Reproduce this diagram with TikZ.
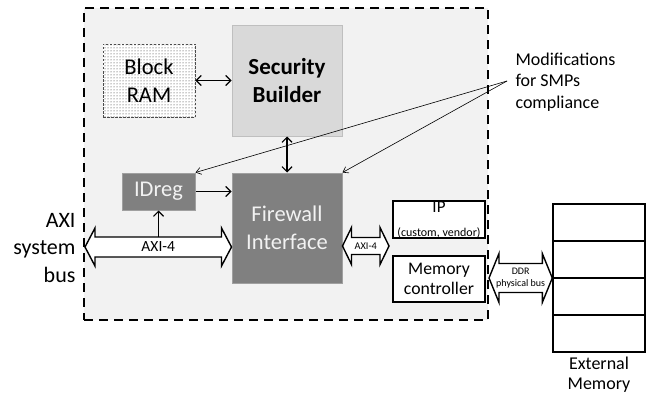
\documentclass[tikz,border=0pt]{standalone}
\usepackage{fontspec}
\setmainfont{Carlito}
\usetikzlibrary{arrows.meta}
\usetikzlibrary{patterns}
\usetikzlibrary{calc}
\usepackage{xcolor}

\definecolor{socgray}{HTML}{F2F2F2}
\definecolor{sbgray}{HTML}{D9D9D9}
\definecolor{sbborder}{HTML}{BFBFBF}
\definecolor{fwgray}{HTML}{808080}
\definecolor{fwborder}{HTML}{A0A0A0}

% horizontal block arrow: left end, right end, shaft half, head half, head length
\newcommand{\busarrow}[5]{%
  \draw[bus] let \p1=(#1), \p2=(#2) in
    (\x1,\y1) -- (\x1+#5,\y1+#4) -- (\x1+#5,\y1+#3) -- (\x2-#5,\y1+#3) -- (\x2-#5,\y1+#4)
    -- (\x2,\y1) -- (\x2-#5,\y1-#4) -- (\x2-#5,\y1-#3) -- (\x1+#5,\y1-#3) -- (\x1+#5,\y1-#4) -- cycle;}

\tikzset{
  soc/.style={draw, dash pattern=on 9pt off 6pt, line width=1.6pt, fill=socgray,
    minimum width=404pt, minimum height=312pt, inner sep=0pt},
  ram/.style={draw=black!70, dash pattern=on 2.5pt off 1.5pt, line width=0.8pt,
    preaction={fill=white}, pattern=dots, pattern color=black!85,
    minimum width=92pt, minimum height=73pt, inner sep=0pt, align=center,
    font=\fontsize{22.5}{27.5}\selectfont},
  builder/.style={draw=sbborder, fill=sbgray, line width=1pt, minimum width=110pt,
    minimum height=110pt, inner sep=0pt, align=center,
    font=\fontsize{23}{28}\selectfont\bfseries},
  darkbox/.style={draw=fwborder, fill=fwgray, line width=1pt, text=socgray,
    inner sep=0pt, align=center, font=\fontsize{22.5}{28}\selectfont},
  plainbox/.style={draw, line width=1.4pt, fill=white, minimum width=92pt,
    inner sep=0pt, align=center},
  cell/.style={draw, line width=1.4pt, fill=white, minimum width=92pt,
    minimum height=37pt, inner sep=0pt},
  link/.style={line width=1.2pt, >={Straight Barb[length=5pt,width=10pt]}},
  thinlink/.style={line width=0.6pt, ->, >={Straight Barb[length=5pt,width=7pt]}},
  bus/.style={draw, line width=1.4pt, fill=white, line join=miter}
}

\begin{document}
\begin{tikzpicture}[x=1pt,y=-1pt]
  \useasboundingbox (0,0) rectangle (648,396);

  \node[soc] (frame) at (286,164) {};

  \node[ram] (bram) at (149,80.5) {Block\\RAM};
  \node[builder] (sb) at (287,81) {Security\\Builder};
  \node[darkbox, minimum width=73pt, minimum height=37pt] (idreg) at (158.5,191.5) {IDreg};
  \node[darkbox, minimum width=110pt, minimum height=110pt] (fw) at (287,228) {Firewall\\Interface};

  \node[plainbox, minimum height=37pt] (ip) at (439,219.5) {};
  \node[anchor=north, inner sep=1.5pt, font=\fontsize{17}{17}\selectfont] (iptext) at (ip.north) {IP};
  \node[anchor=south, inner sep=0.5pt, font=\fontsize{12}{12}\selectfont] (ipnote) at (ip.south) {(custom, vendor)};
  \node[plainbox, minimum height=46pt, font=\fontsize{17.7}{20.5}\selectfont] (mc) at (439,279) {Memory\\controller};

  % external memory
  \foreach \i in {0,...,3}
    \node[cell] (cell\i) at (599,{222.5+37*\i}) {};
  \node[align=center, font=\fontsize{18}{20}\selectfont] (extlabel) at (599,375) {External\\Memory};

  \node[anchor=east, align=right, font=\fontsize{22}{27.5}\selectfont] (axilabel) at (79,248) {AXI\\system\\bus};
  \node[anchor=west, align=left, font=\fontsize{18}{21.5}\selectfont] (modlabel) at (512,82) {Modifications\\for SMPs\\compliance};

  % block arrows
  \coordinate (axiL) at (85,247);
  \coordinate (axiR) at (fw.west |- axiL);
  \busarrow{axiL}{axiR}{10pt}{19pt}{10pt}
  \node[font=\fontsize{15.5}{15.5}\selectfont] (axitext) at ($(axiL)!0.5!(axiR)$) {AXI-4};

  \coordinate (ipL) at (fw.east |- 0,246);
  \coordinate (ipR) at (389,246);
  \busarrow{ipL}{ipR}{8.5pt}{18.5pt}{9pt}
  \node[font=\fontsize{10.3}{10.3}\selectfont] (iptext2) at ($(ipL)!0.5!(ipR)$) {AXI-4};

  \coordinate (ddrL) at (489,278);
  \coordinate (ddrR) at (cell0.west |- ddrL);
  \busarrow{ddrL}{ddrR}{14.5pt}{24.5pt}{10pt}
  \node[align=center, font=\fontsize{10}{12}\selectfont] (ddrtext) at ($(ddrL)!0.5!(ddrR)$) {DDR\\physical bus};

  % links
  \draw[link, <->] (bram.east) -- (bram.east -| sb.west);
  \draw[link, <->] (sb.south) -- (fw.north);
  \draw[link, ->] (idreg.east) -- (idreg.east -| fw.west);
  \coordinate (axitap) at (idreg.south |- 0,237);
  \draw[link, ->] (axitap) -- (idreg.south);

  \coordinate (mod) at (507,81);
  \draw[thinlink] (mod) -- (idreg.north east);
  \draw[thinlink] (mod) -- (fw.north east);
\end{tikzpicture}
\end{document}
